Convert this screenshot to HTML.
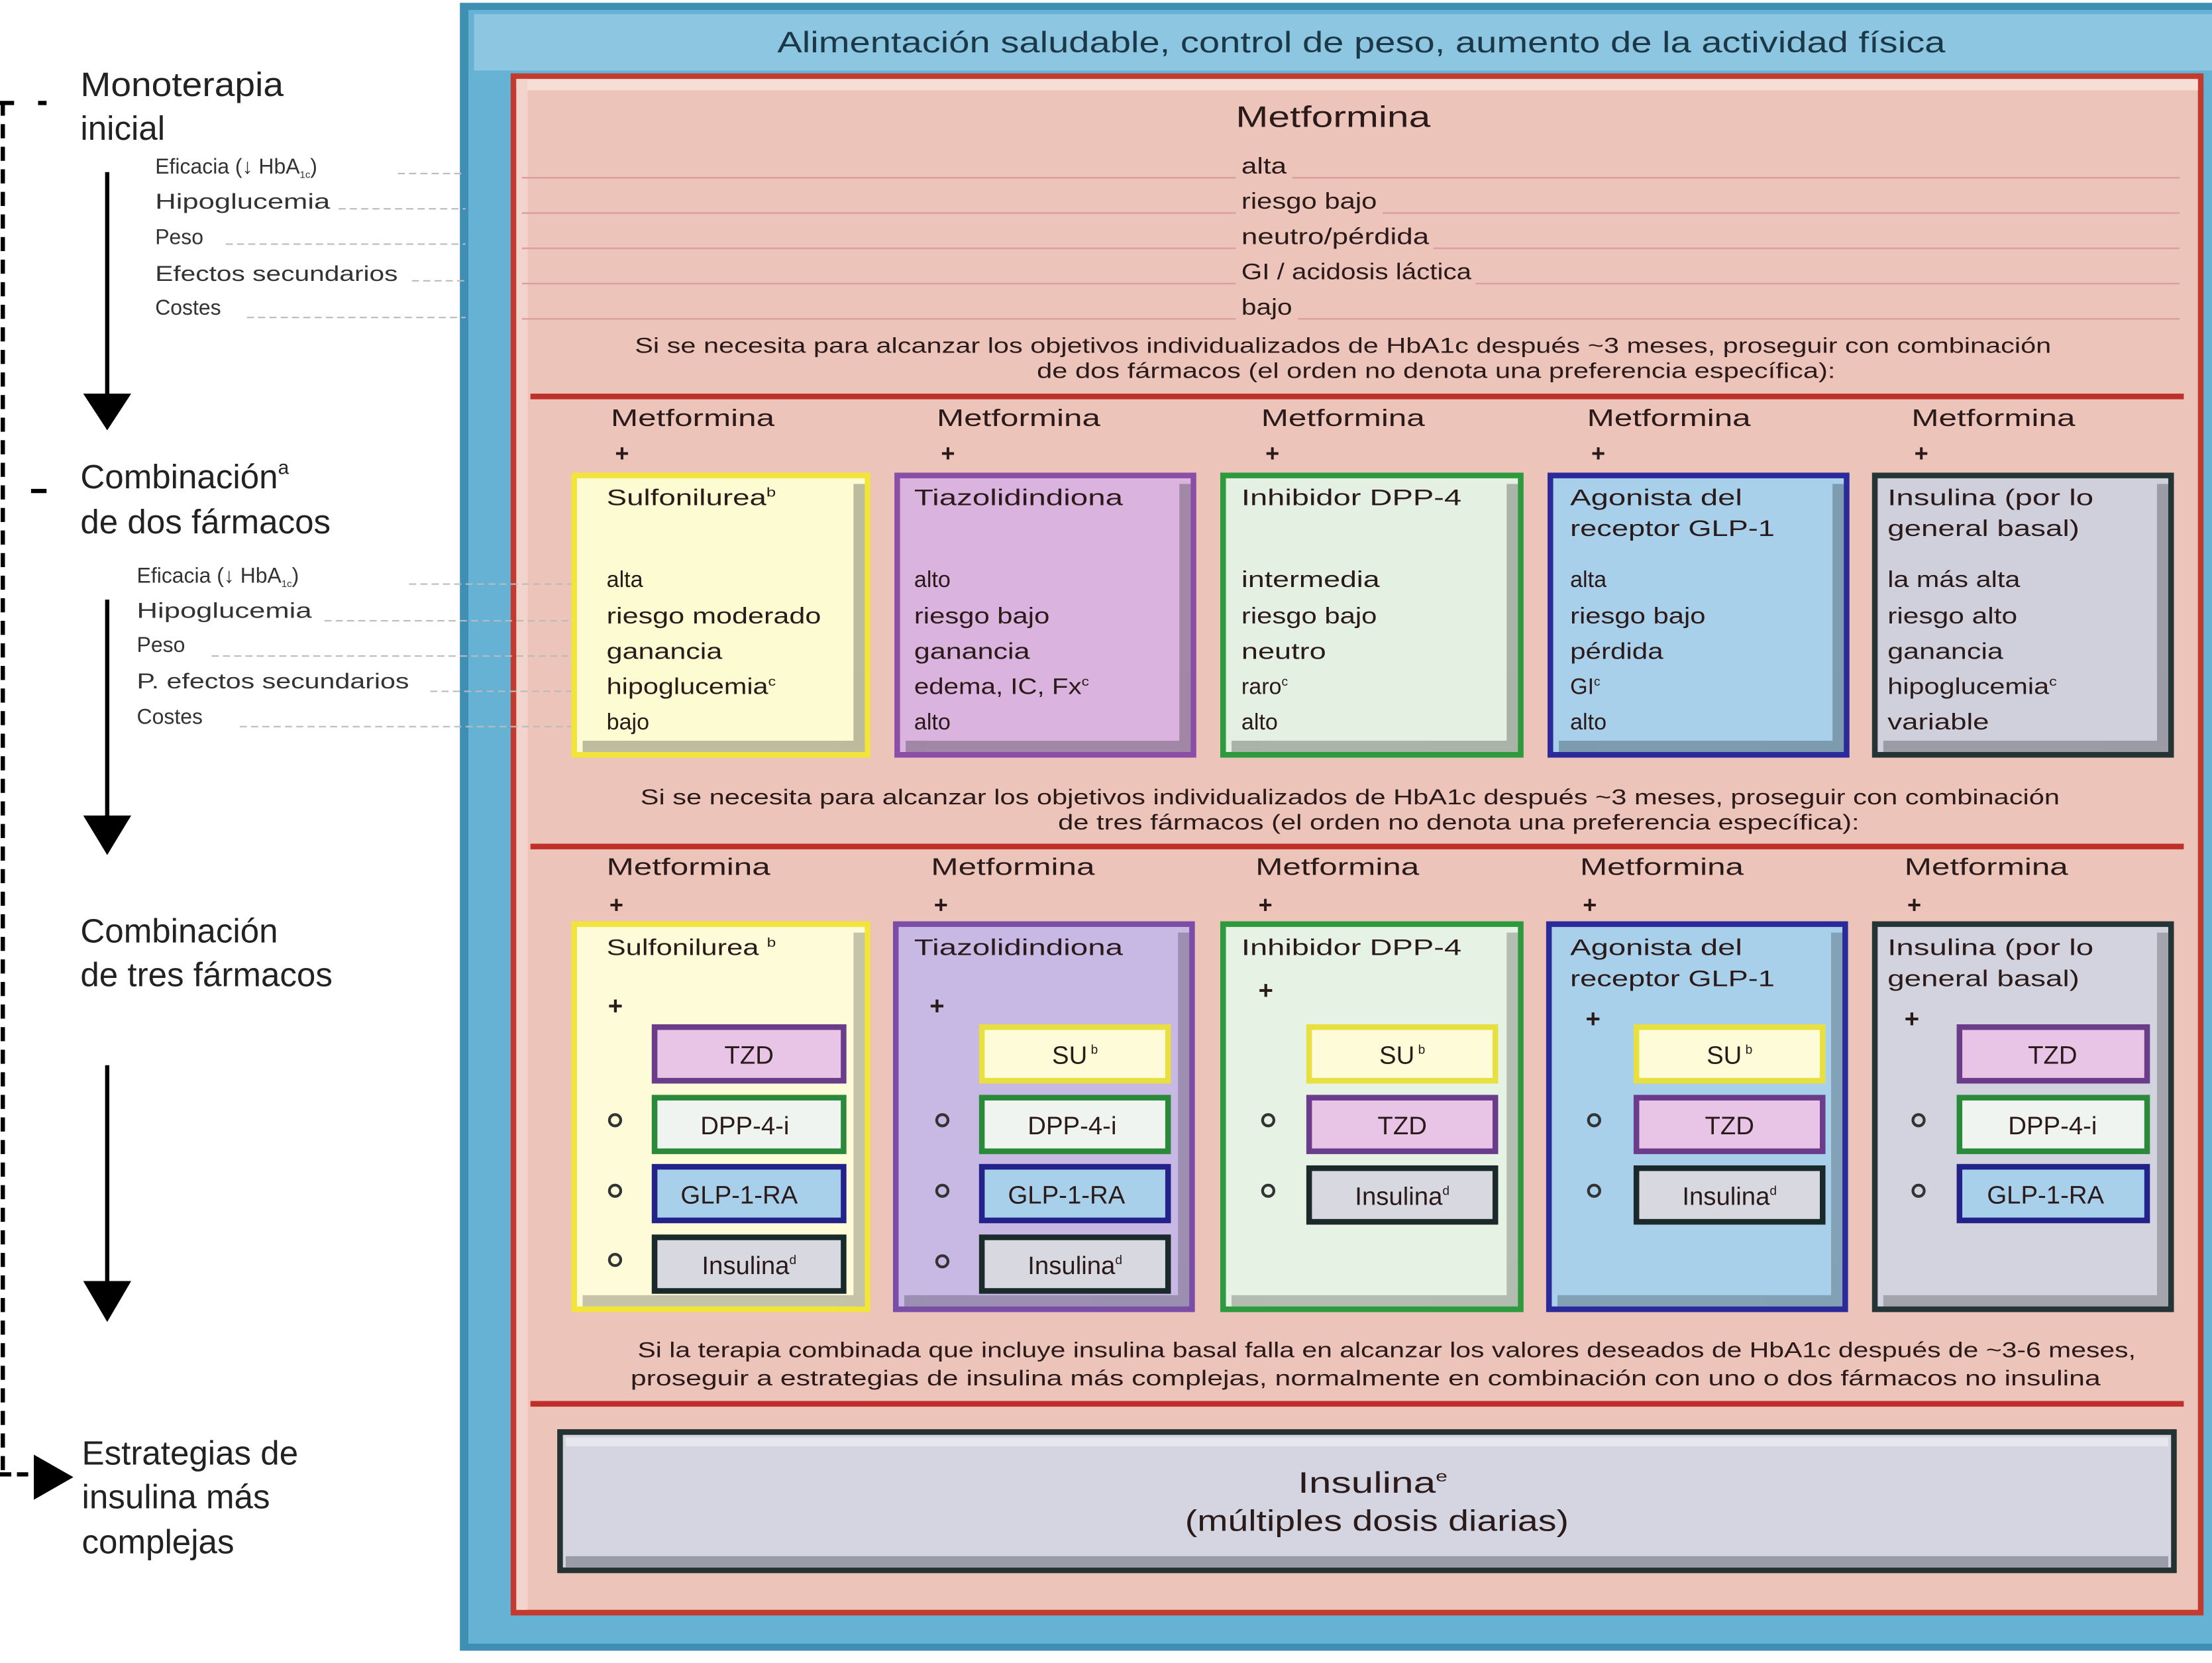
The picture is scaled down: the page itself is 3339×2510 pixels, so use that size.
<!DOCTYPE html>
<html><head><meta charset="utf-8"><style>
html,body{margin:0;padding:0;background:#fff;}
svg{display:block;}
text{font-family:"Liberation Sans",sans-serif;fill:#222;}
.c{font-family:"Liberation Sans Narrow","Liberation Sans",sans-serif;fill:#2a1a1a;}
</style></head><body>
<svg width="3339" height="2510" viewBox="0 0 1568 1178.7" preserveAspectRatio="none" xmlns="http://www.w3.org/2000/svg">
<rect x="326" y="2" width="1242" height="1168" fill="#3f8fb4"/>
<rect x="332" y="7" width="1236" height="1158" fill="#66b2d4"/>
<rect x="336" y="10" width="1232" height="40" fill="#8cc6e0"/>
<text class="c" x="965" y="37" font-size="21" text-anchor="middle" textLength="828" lengthAdjust="spacingAndGlyphs" style="fill:#1c3848">Alimentación saludable, control de peso, aumento de la actividad física</text>
<rect x="362" y="52" width="1200" height="1093" fill="#c23b2e"/>
<rect x="366" y="56" width="1192" height="1085" fill="#ecc4ba"/>
<rect x="366" y="56" width="1192" height="8" fill="#f6ddd6"/>
<rect x="366" y="56" width="8" height="1085" fill="#f2d4cc"/>
<text class="c" x="945" y="90" font-size="21" text-anchor="middle" textLength="138" lengthAdjust="spacingAndGlyphs">Metformina</text>
<g stroke="#dba0a0" stroke-width="1.2">
<line x1="370" y1="126" x2="876" y2="126"/><line x1="916" y1="126" x2="1545" y2="126"/>
<line x1="370" y1="151" x2="876" y2="151"/><line x1="980" y1="151" x2="1545" y2="151"/>
<line x1="370" y1="176" x2="876" y2="176"/><line x1="1016" y1="176" x2="1545" y2="176"/>
<line x1="370" y1="201" x2="876" y2="201"/><line x1="1046" y1="201" x2="1545" y2="201"/>
<line x1="370" y1="226" x2="876" y2="226"/><line x1="920" y1="226" x2="1545" y2="226"/>
</g>
<g class="c" font-size="16">
<text class="c" x="880" y="123" textLength="32" lengthAdjust="spacingAndGlyphs">alta</text>
<text class="c" x="880" y="148" textLength="96" lengthAdjust="spacingAndGlyphs">riesgo bajo</text>
<text class="c" x="880" y="173" textLength="133" lengthAdjust="spacingAndGlyphs">neutro/pérdida</text>
<text class="c" x="880" y="198" textLength="163" lengthAdjust="spacingAndGlyphs">GI / acidosis láctica</text>
<text class="c" x="880" y="223" textLength="36" lengthAdjust="spacingAndGlyphs">bajo</text>
</g>
<text class="c" x="952" y="250" font-size="15" text-anchor="middle" textLength="1004" lengthAdjust="spacingAndGlyphs">Si se necesita para alcanzar los objetivos individualizados de HbA1c después ~3 meses, proseguir con combinación</text>
<text class="c" x="1018" y="268" font-size="15" text-anchor="middle" textLength="566" lengthAdjust="spacingAndGlyphs">de dos fármacos (el orden no denota una preferencia específica):</text>
<rect x="376" y="279" width="1172" height="4" fill="#c0302a"/>
<g font-size="17">
<text class="c" x="433" y="302" textLength="116" lengthAdjust="spacingAndGlyphs">Metformina</text>
<text class="c" x="664" y="302" textLength="116" lengthAdjust="spacingAndGlyphs">Metformina</text>
<text class="c" x="894" y="302" textLength="116" lengthAdjust="spacingAndGlyphs">Metformina</text>
<text class="c" x="1125" y="302" textLength="116" lengthAdjust="spacingAndGlyphs">Metformina</text>
<text class="c" x="1355" y="302" textLength="116" lengthAdjust="spacingAndGlyphs">Metformina</text>
<text class="c" x="436" y="327" font-weight="bold">+</text>
<text class="c" x="667" y="327" font-weight="bold">+</text>
<text class="c" x="897" y="327" font-weight="bold">+</text>
<text class="c" x="1128" y="327" font-weight="bold">+</text>
<text class="c" x="1357" y="327" font-weight="bold">+</text>
</g>
<g stroke-width="4">
<rect x="407" y="337" width="208" height="198" fill="#fdfbd2" stroke="#f2e43a"/>
<rect x="636" y="337" width="210" height="198" fill="#dab4de" stroke="#8a4ea6"/>
<rect x="867" y="337" width="211" height="198" fill="#e4f0e2" stroke="#2e9a3e"/>
<rect x="1099" y="337" width="210" height="198" fill="#a8d0ea" stroke="#2a2a9a"/>
<rect x="1329" y="337" width="210" height="198" fill="#cfd0dc" stroke="#253535"/>
</g>
<g fill="#000" opacity="0.25">
<rect x="605" y="343" width="8" height="190"/><rect x="413" y="525" width="200" height="8"/>
<rect x="836" y="343" width="8" height="190"/><rect x="642" y="525" width="202" height="8"/>
<rect x="1068" y="343" width="8" height="190"/><rect x="873" y="525" width="203" height="8"/>
<rect x="1299" y="343" width="8" height="190"/><rect x="1105" y="525" width="202" height="8"/>
<rect x="1529" y="343" width="8" height="190"/><rect x="1335" y="525" width="202" height="8"/>
</g>
<g font-size="16">
<text class="c" x="430" y="358" textLength="120" lengthAdjust="spacingAndGlyphs">Sulfonilurea<tspan font-size="9" dy="-6">b</tspan></text>
<text class="c" x="648" y="358" textLength="148" lengthAdjust="spacingAndGlyphs">Tiazolidindiona</text>
<text class="c" x="880" y="358" textLength="156" lengthAdjust="spacingAndGlyphs">Inhibidor DPP-4</text>
<text class="c" x="1113" y="358" textLength="122" lengthAdjust="spacingAndGlyphs">Agonista del</text>
<text class="c" x="1113" y="380" textLength="145" lengthAdjust="spacingAndGlyphs">receptor GLP-1</text>
<text class="c" x="1338" y="358" textLength="146" lengthAdjust="spacingAndGlyphs">Insulina (por lo</text>
<text class="c" x="1338" y="380" textLength="136" lengthAdjust="spacingAndGlyphs">general basal)</text>
<text class="c" x="430" y="416">alta</text>
<text class="c" x="430" y="442" textLength="152" lengthAdjust="spacingAndGlyphs">riesgo moderado</text>
<text class="c" x="430" y="467" textLength="82" lengthAdjust="spacingAndGlyphs">ganancia</text>
<text class="c" x="430" y="492" textLength="120" lengthAdjust="spacingAndGlyphs">hipoglucemia<tspan font-size="9" dy="-6">c</tspan></text>
<text class="c" x="430" y="517">bajo</text>
<text class="c" x="648" y="416">alto</text>
<text class="c" x="648" y="442" textLength="96" lengthAdjust="spacingAndGlyphs">riesgo bajo</text>
<text class="c" x="648" y="467" textLength="82" lengthAdjust="spacingAndGlyphs">ganancia</text>
<text class="c" x="648" y="492" textLength="124" lengthAdjust="spacingAndGlyphs">edema, IC, Fx<tspan font-size="9" dy="-6">c</tspan></text>
<text class="c" x="648" y="517">alto</text>
<text class="c" x="880" y="416" textLength="98" lengthAdjust="spacingAndGlyphs">intermedia</text>
<text class="c" x="880" y="442" textLength="96" lengthAdjust="spacingAndGlyphs">riesgo bajo</text>
<text class="c" x="880" y="467" textLength="60" lengthAdjust="spacingAndGlyphs">neutro</text>
<text class="c" x="880" y="492">raro<tspan font-size="9" dy="-6">c</tspan></text>
<text class="c" x="880" y="517">alto</text>
<text class="c" x="1113" y="416">alta</text>
<text class="c" x="1113" y="442" textLength="96" lengthAdjust="spacingAndGlyphs">riesgo bajo</text>
<text class="c" x="1113" y="467" textLength="66" lengthAdjust="spacingAndGlyphs">pérdida</text>
<text class="c" x="1113" y="492">GI<tspan font-size="9" dy="-6">c</tspan></text>
<text class="c" x="1113" y="517">alto</text>
<text class="c" x="1338" y="416" textLength="94" lengthAdjust="spacingAndGlyphs">la más alta</text>
<text class="c" x="1338" y="442" textLength="92" lengthAdjust="spacingAndGlyphs">riesgo alto</text>
<text class="c" x="1338" y="467" textLength="82" lengthAdjust="spacingAndGlyphs">ganancia</text>
<text class="c" x="1338" y="492" textLength="120" lengthAdjust="spacingAndGlyphs">hipoglucemia<tspan font-size="9" dy="-6">c</tspan></text>
<text class="c" x="1338" y="517" textLength="72" lengthAdjust="spacingAndGlyphs">variable</text>
</g>
<text class="c" x="957" y="570" font-size="15" text-anchor="middle" textLength="1006" lengthAdjust="spacingAndGlyphs">Si se necesita para alcanzar los objetivos individualizados de HbA1c después ~3 meses, proseguir con combinación</text>
<text class="c" x="1034" y="588" font-size="15" text-anchor="middle" textLength="568" lengthAdjust="spacingAndGlyphs">de tres fármacos (el orden no denota una preferencia específica):</text>
<rect x="376" y="598" width="1172" height="4" fill="#c0302a"/>
<g font-size="17">
<text class="c" x="430" y="620" textLength="116" lengthAdjust="spacingAndGlyphs">Metformina</text>
<text class="c" x="660" y="620" textLength="116" lengthAdjust="spacingAndGlyphs">Metformina</text>
<text class="c" x="890" y="620" textLength="116" lengthAdjust="spacingAndGlyphs">Metformina</text>
<text class="c" x="1120" y="620" textLength="116" lengthAdjust="spacingAndGlyphs">Metformina</text>
<text class="c" x="1350" y="620" textLength="116" lengthAdjust="spacingAndGlyphs">Metformina</text>
<text class="c" x="432" y="647" font-weight="bold">+</text>
<text class="c" x="662" y="647" font-weight="bold">+</text>
<text class="c" x="892" y="647" font-weight="bold">+</text>
<text class="c" x="1122" y="647" font-weight="bold">+</text>
<text class="c" x="1352" y="647" font-weight="bold">+</text>
</g>
<g stroke-width="4">
<rect x="407" y="655" width="208" height="273" fill="#fdfbd8" stroke="#f2e43a"/>
<rect x="635" y="655" width="210" height="273" fill="#c8b8e4" stroke="#7a4ea6"/>
<rect x="867" y="655" width="211" height="273" fill="#e6f2e4" stroke="#2e9a3e"/>
<rect x="1098" y="655" width="210" height="273" fill="#a8d0ea" stroke="#2a2a9a"/>
<rect x="1329" y="655" width="210" height="273" fill="#d2d3de" stroke="#253535"/>
</g>
<g fill="#000" opacity="0.22">
<rect x="605" y="661" width="8" height="265"/><rect x="413" y="918" width="200" height="8"/>
<rect x="835" y="661" width="8" height="265"/><rect x="641" y="918" width="202" height="8"/>
<rect x="1068" y="661" width="8" height="265"/><rect x="873" y="918" width="203" height="8"/>
<rect x="1298" y="661" width="8" height="265"/><rect x="1104" y="918" width="202" height="8"/>
<rect x="1529" y="661" width="8" height="265"/><rect x="1335" y="918" width="202" height="8"/>
</g>
<g font-size="16">
<text class="c" x="430" y="677" textLength="120" lengthAdjust="spacingAndGlyphs">Sulfonilurea <tspan font-size="9" dy="-6">b</tspan></text>
<text class="c" x="648" y="677" textLength="148" lengthAdjust="spacingAndGlyphs">Tiazolidindiona</text>
<text class="c" x="880" y="677" textLength="156" lengthAdjust="spacingAndGlyphs">Inhibidor DPP-4</text>
<text class="c" x="1113" y="677" textLength="122" lengthAdjust="spacingAndGlyphs">Agonista del</text>
<text class="c" x="1113" y="699" textLength="145" lengthAdjust="spacingAndGlyphs">receptor GLP-1</text>
<text class="c" x="1338" y="677" textLength="146" lengthAdjust="spacingAndGlyphs">Insulina (por lo</text>
<text class="c" x="1338" y="699" textLength="136" lengthAdjust="spacingAndGlyphs">general basal)</text>
<text class="c" x="431" y="719" font-weight="bold" font-size="18">+</text>
<text class="c" x="659" y="719" font-weight="bold" font-size="18">+</text>
<text class="c" x="892" y="708" font-weight="bold" font-size="18">+</text>
<text class="c" x="1124" y="728" font-weight="bold" font-size="18">+</text>
<text class="c" x="1350" y="728" font-weight="bold" font-size="18">+</text>
</g>
<g fill="none" stroke="#333" stroke-width="2">
<circle cx="436" cy="794" r="4"/><circle cx="436" cy="844" r="4"/><circle cx="436" cy="893" r="4"/>
<circle cx="668" cy="794" r="4"/><circle cx="668" cy="844" r="4"/><circle cx="668" cy="894" r="4"/>
<circle cx="899" cy="794" r="4"/><circle cx="899" cy="844" r="4"/>
<circle cx="1130" cy="794" r="4"/><circle cx="1130" cy="844" r="4"/>
<circle cx="1360" cy="794" r="4"/><circle cx="1360" cy="844" r="4"/>
</g>
<g stroke-width="4">
<rect x="464" y="728" width="134" height="38" fill="#e8c4e6" stroke="#6a3c8a"/>
<rect x="464" y="778" width="134" height="38" fill="#f0f4f0" stroke="#2a8a3a"/>
<rect x="464" y="827" width="134" height="38" fill="#a8d0ea" stroke="#22228a"/>
<rect x="464" y="877" width="134" height="38" fill="#d8d8e0" stroke="#1a2a2a"/>
<rect x="696" y="728" width="132" height="38" fill="#fefcd8" stroke="#e8e040"/>
<rect x="696" y="778" width="132" height="38" fill="#f0f4f0" stroke="#2a8a3a"/>
<rect x="696" y="827" width="132" height="38" fill="#a8d0ea" stroke="#22228a"/>
<rect x="696" y="877" width="132" height="38" fill="#d8d8e0" stroke="#1a2a2a"/>
<rect x="928" y="728" width="132" height="38" fill="#fefcd8" stroke="#e8e040"/>
<rect x="928" y="778" width="132" height="38" fill="#e8c4e6" stroke="#6a3c8a"/>
<rect x="928" y="828" width="132" height="38" fill="#d8d8e0" stroke="#1a2a2a"/>
<rect x="1160" y="728" width="132" height="38" fill="#fefcd8" stroke="#e8e040"/>
<rect x="1160" y="778" width="132" height="38" fill="#e8c4e6" stroke="#6a3c8a"/>
<rect x="1160" y="828" width="132" height="38" fill="#d8d8e0" stroke="#1a2a2a"/>
<rect x="1389" y="728" width="133" height="38" fill="#e8c4e6" stroke="#6a3c8a"/>
<rect x="1389" y="778" width="133" height="38" fill="#f0f4f0" stroke="#2a8a3a"/>
<rect x="1389" y="827" width="133" height="38" fill="#a8d0ea" stroke="#22228a"/>
</g>
<g font-size="18" text-anchor="middle">
<text class="c" x="531" y="754">TZD</text>
<text class="c" x="528" y="804">DPP-4-i</text>
<text class="c" x="524" y="853">GLP-1-RA</text>
<text class="c" x="531" y="903">Insulina<tspan font-size="9" dy="-7">d</tspan></text>
<text class="c" x="762" y="754">SU<tspan font-size="9" dy="-7"> b</tspan></text>
<text class="c" x="760" y="804">DPP-4-i</text>
<text class="c" x="756" y="853">GLP-1-RA</text>
<text class="c" x="762" y="903">Insulina<tspan font-size="9" dy="-7">d</tspan></text>
<text class="c" x="994" y="754">SU<tspan font-size="9" dy="-7"> b</tspan></text>
<text class="c" x="994" y="804">TZD</text>
<text class="c" x="994" y="854">Insulina<tspan font-size="9" dy="-7">d</tspan></text>
<text class="c" x="1226" y="754">SU<tspan font-size="9" dy="-7"> b</tspan></text>
<text class="c" x="1226" y="804">TZD</text>
<text class="c" x="1226" y="854">Insulina<tspan font-size="9" dy="-7">d</tspan></text>
<text class="c" x="1455" y="754">TZD</text>
<text class="c" x="1455" y="804">DPP-4-i</text>
<text class="c" x="1450" y="853">GLP-1-RA</text>
</g>
<text class="c" x="983" y="962" font-size="15" text-anchor="middle" textLength="1062" lengthAdjust="spacingAndGlyphs">Si la terapia combinada que incluye insulina basal falla en alcanzar los valores deseados de HbA1c después de ~3-6 meses,</text>
<text class="c" x="968" y="982" font-size="15" text-anchor="middle" textLength="1042" lengthAdjust="spacingAndGlyphs">proseguir a estrategias de insulina más complejas, normalmente en combinación con uno o dos fármacos no insulina</text>
<rect x="376" y="993" width="1172" height="4" fill="#c0302a"/>
<rect x="397" y="1015" width="1144" height="98" fill="#d4d5e0" stroke="#243232" stroke-width="4"/>
<rect x="401" y="1019" width="1136" height="6" fill="#e6e6ee"/>
<rect x="401" y="1103" width="1136" height="8" fill="#9a9ca8"/>
<text class="c" x="973" y="1058" font-size="21" text-anchor="middle" textLength="106" lengthAdjust="spacingAndGlyphs">Insulina<tspan font-size="11" dy="-8">e</tspan></text>
<text class="c" x="976" y="1085" font-size="21" text-anchor="middle" textLength="272" lengthAdjust="spacingAndGlyphs">(múltiples dosis diarias)</text>
<g font-size="24">
<text x="57" y="68" textLength="144" lengthAdjust="spacingAndGlyphs">Monoterapia</text>
<text x="57" y="99">inicial</text>
<text x="57" y="346">Combinación<tspan font-size="14" dy="-10">a</tspan></text>
<text x="57" y="378">de dos fármacos</text>
<text x="57" y="668">Combinación</text>
<text x="57" y="699">de tres fármacos</text>
<text x="58" y="1038">Estrategias de</text>
<text x="58" y="1069">insulina más</text>
<text x="58" y="1101">complejas</text>
</g>
<g font-size="15">
<text class="c" x="110" y="123" style="fill:#333">Eficacia  (↓ HbA<tspan font-size="7" dy="3">1c</tspan><tspan dy="-3">)</tspan></text>
<text class="c" x="110" y="148" style="fill:#333" textLength="124" lengthAdjust="spacingAndGlyphs">Hipoglucemia</text>
<text class="c" x="110" y="173" style="fill:#333">Peso</text>
<text class="c" x="110" y="199" style="fill:#333" textLength="172" lengthAdjust="spacingAndGlyphs">Efectos secundarios</text>
<text class="c" x="110" y="223" style="fill:#333">Costes</text>
<text class="c" x="97" y="413" style="fill:#333">Eficacia  (↓ HbA<tspan font-size="7" dy="3">1c</tspan><tspan dy="-3">)</tspan></text>
<text class="c" x="97" y="438" style="fill:#333" textLength="124" lengthAdjust="spacingAndGlyphs">Hipoglucemia</text>
<text class="c" x="97" y="462" style="fill:#333">Peso</text>
<text class="c" x="97" y="488" style="fill:#333" textLength="193" lengthAdjust="spacingAndGlyphs">P. efectos secundarios</text>
<text class="c" x="97" y="513" style="fill:#333">Costes</text>
</g>
<g stroke="#bbb" stroke-width="1" stroke-dasharray="5,3">
<line x1="282" y1="123" x2="330" y2="123"/><line x1="240" y1="148" x2="330" y2="148"/>
<line x1="160" y1="173" x2="330" y2="173"/><line x1="292" y1="199" x2="330" y2="199"/>
<line x1="175" y1="225" x2="330" y2="225"/>
<line x1="290" y1="414" x2="405" y2="414"/><line x1="230" y1="440" x2="405" y2="440"/>
<line x1="150" y1="465" x2="405" y2="465"/><line x1="305" y1="490" x2="405" y2="490"/>
<line x1="170" y1="515" x2="405" y2="515"/>
</g>
<g stroke="#000" stroke-width="3">
<line x1="76" y1="122" x2="76" y2="282"/>
<line x1="76" y1="425" x2="76" y2="580"/>
<line x1="76" y1="755" x2="76" y2="910"/>
</g>
<polygon points="59,279 93,279 76,305" fill="#000"/>
<polygon points="59,578 93,578 76,606" fill="#000"/>
<polygon points="59,908 93,908 76,937" fill="#000"/>
<line x1="2" y1="72" x2="2" y2="1045" stroke="#000" stroke-width="3" stroke-dasharray="10,6"/>
<line x1="0" y1="73" x2="10" y2="73" stroke="#000" stroke-width="3"/>
<line x1="27" y1="73" x2="33" y2="73" stroke="#000" stroke-width="3"/>
<line x1="22" y1="348" x2="33" y2="348" stroke="#000" stroke-width="3"/>
<line x1="0" y1="1045" x2="22" y2="1045" stroke="#000" stroke-width="3" stroke-dasharray="8,4"/>
<polygon points="24,1031 52,1047 24,1063" fill="#000"/>
</svg>
</body></html>
